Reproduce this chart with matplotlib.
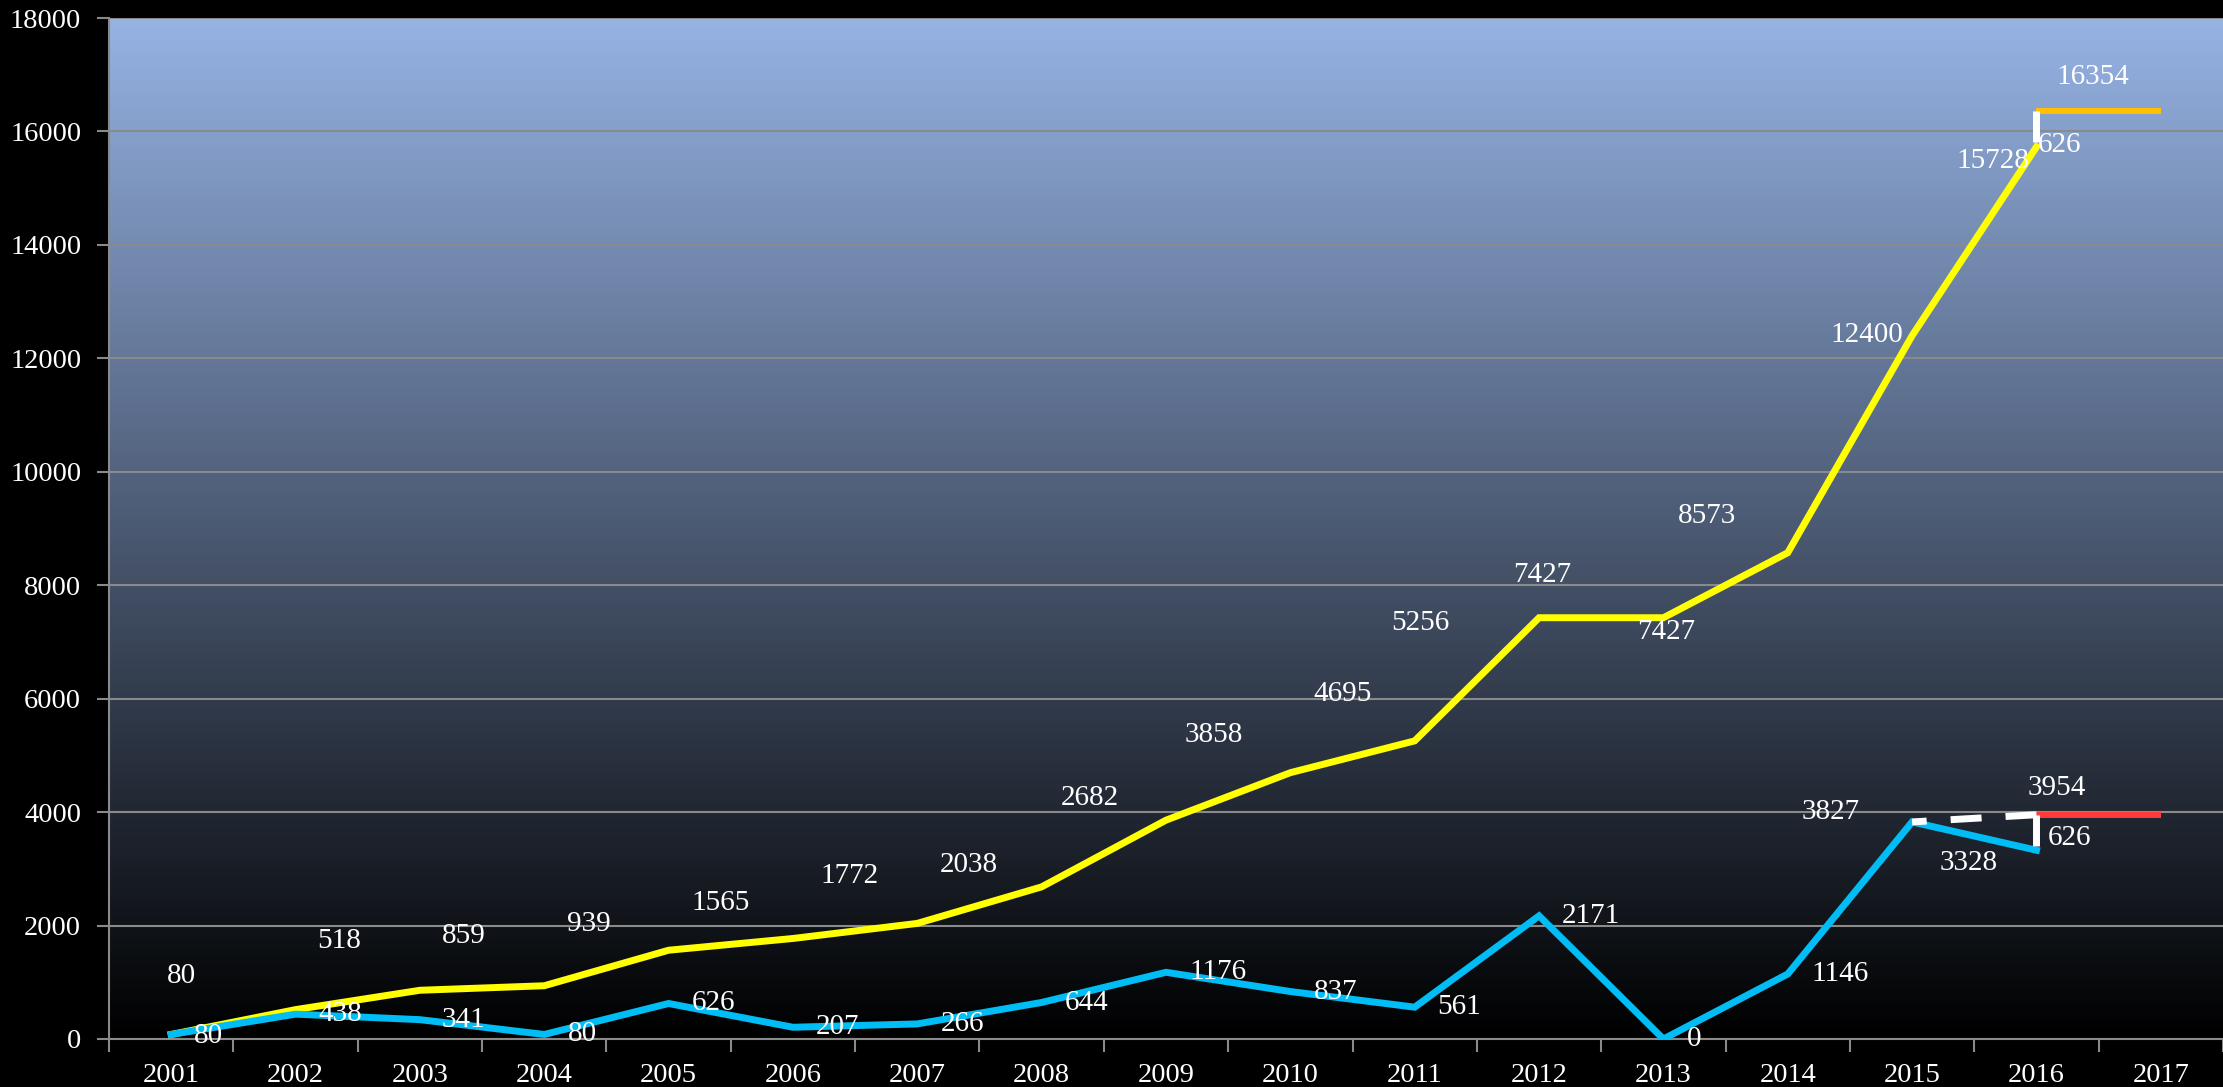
import numpy as np
from matplotlib import pyplot as plt

years = ["2001", "2002", "2003", "2004", "2005", "2006", "2007", "2008", "2009",
         "2010", "2011", "2012", "2013", "2014", "2015", "2016", "2017"]
total = [80, 518, 859, 939, 1565, 1772, 2038, 2682, 3858, 4695, 5256, 7427, 7427,
         8573, 12400, 15728]
annual = [80, 438, 341, 80, 626, 207, 266, 644, 1176, 837, 561, 2171, 0, 1146,
          3827, 3328]
total_next = 16354
annual_next = 3954
gap_label = "626"

# label offsets (pixels) from each point, picked by eye
total_off = [(10, 58), (44, 69), (44, 54), (45, 62), (52, 47), (57, 62), (52, 58),
             (48, 89), (48, 85), (52, 79), (6, 118), (3, 43), (3, -14), (-81, 37),
             (-45, 1), (-44, -14)]
annual_off = [(37, -2), (45, 0), (44, 0), (38, 0), (45, 0), (45, 0), (45, 0),
              (45, -1), (52, 0), (45, 0), (44, 0), (52, 0), (31, 0), (52, 0),
              (-81, 10), (-68, -13)]

plt.rcParams['font.family'] = ['Liberation Serif', 'DejaVu Serif']

fig = plt.figure(figsize=(22.23, 10.87), dpi=100, facecolor='black')
ax = fig.add_axes([109 / 2223, 48 / 1087, 2114 / 2223, 1021 / 1087])
ax.set_facecolor('black')

# vertical gradient background
top = np.array([150, 179, 228]) / 255
grad = np.linspace(0, 1, 256)[:, None, None] * top[None, None, :]
ax.imshow(grad, extent=[0, 1, 0, 1], transform=ax.transAxes, origin='lower',
          aspect='auto', zorder=0)

x = np.arange(len(total))
ax.plot(x, total, color='#FFFF00', lw=5, zorder=3, solid_joinstyle='miter')
ax.plot(x, annual, color='#00BDF5', lw=5, zorder=3, solid_joinstyle='miter')

last = len(total) - 1
ax.plot([last, last + 1], [total_next, total_next], color='#FFC000', lw=4.3,
        solid_capstyle='butt', zorder=4)
ax.plot([last, last + 1], [annual_next, annual_next], color='#FF3B3B', lw=4.3,
        solid_capstyle='butt', zorder=4)

dash = dict(color='white', lw=5, dashes=(4.46, 3.46), dash_capstyle='butt', zorder=5)
ax.plot([last, last], [total_next, total[-1]], **dash)
ax.plot([last, last], [annual_next, annual[-1]], **dash)
ax.plot([last, last - 1], [annual_next, annual[-2]], **dash)

lab = dict(color='white', fontsize=21, ha='center', va='center',
           textcoords='offset pixels', zorder=6)
for i, v in enumerate(total):
    ax.annotate(str(v), (i, v), xytext=total_off[i], **lab)
for i, v in enumerate(annual):
    ax.annotate(str(v), (i, v), xytext=annual_off[i], **lab)
ax.annotate(str(total_next), (last, total_next), xytext=(56, 34), **lab)
ax.annotate(str(annual_next), (last, annual_next), xytext=(20, 27), **lab)
ax.annotate(gap_label, (last, total[-1]), xytext=(23, 2), **lab)
ax.annotate(gap_label, (last, annual[-1]), xytext=(33, 12), **lab)

ax.set_xlim(-0.5, len(years) - 0.5)
ax.set_ylim(0, 18000)
ax.set_yticks(np.arange(0, 18001, 2000))
ax.set_xticks(np.arange(len(years)))
ax.set_xticklabels(years)
ax.set_xticks(np.arange(len(years) + 1) - 0.5, minor=True)
ax.tick_params(axis='x', which='major', length=0, pad=17, labelsize=20.5, labelcolor='white')
ax.tick_params(axis='x', which='minor', length=9, width=1.5, color='#8A8A8A', direction='out')
ax.tick_params(axis='y', length=9, width=1.5, color='#8A8A8A', pad=11,
               labelsize=20.5, labelcolor='white')
ax.yaxis.grid(True, color='#8A8A8A', lw=1.5, zorder=1)
ax.set_axisbelow(False)
for gl in ax.get_ygridlines():
    gl.set_zorder(1)
for side in ['top', 'right']:
    ax.spines[side].set_visible(False)
for side in ['left', 'bottom']:
    ax.spines[side].set_color('#8A8A8A')
    ax.spines[side].set_linewidth(1.5)
    ax.spines[side].set_zorder(2)

fig.savefig('out.png', dpi=100, facecolor='black')
